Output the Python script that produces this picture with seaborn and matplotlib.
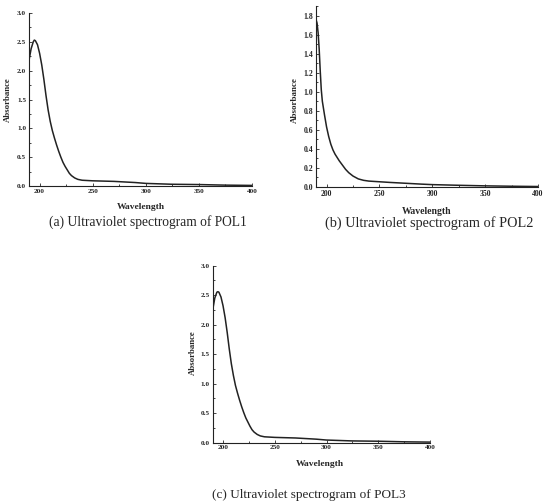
import matplotlib
matplotlib.use('Agg')
import matplotlib.pyplot as plt
import numpy as np
import pandas as pd
import seaborn as sns
from matplotlib.ticker import MultipleLocator, AutoMinorLocator

# Wavelength (nm) / absorbance
wl_pol1 = [190, 192, 194, 195, 196, 198, 200, 202, 204, 206, 208, 210, 212, 214,
           216, 218, 220, 222, 224, 226, 228, 230, 233, 236, 240, 245, 250, 260,
           270, 280, 290, 300, 325, 350, 375, 400]
abs_pol1 = [2.18, 2.38, 2.50, 2.53, 2.52, 2.45, 2.30, 2.10, 1.85, 1.57, 1.32, 1.12,
            0.96, 0.83, 0.71, 0.60, 0.50, 0.41, 0.34, 0.28, 0.22, 0.18, 0.14, 0.115,
            0.10, 0.095, 0.09, 0.085, 0.08, 0.07, 0.06, 0.045, 0.03, 0.025, 0.015, 0.01]

wl_pol2 = [190, 191, 192, 193, 194, 195, 196, 198, 200, 202, 204, 206, 208, 210,
           212, 215, 218, 221, 225, 230, 235, 240, 250, 260, 270, 280, 290, 300,
           325, 350, 375, 400]
abs_pol2 = [1.76, 1.72, 1.62, 1.45, 1.22, 1.02, 0.90, 0.76, 0.63, 0.53, 0.45, 0.39,
            0.345, 0.31, 0.275, 0.23, 0.185, 0.15, 0.115, 0.085, 0.07, 0.062, 0.055,
            0.048, 0.042, 0.036, 0.03, 0.025, 0.018, 0.012, 0.008, 0.005]

wl_pol3 = [190, 192, 194, 195, 196, 198, 200, 202, 204, 206, 208, 210, 212, 214,
           216, 218, 220, 222, 224, 226, 228, 230, 233, 236, 240, 245, 250, 260,
           270, 280, 290, 300, 325, 350, 375, 400]
abs_pol3 = [2.25, 2.45, 2.55, 2.56, 2.55, 2.47, 2.32, 2.12, 1.87, 1.59, 1.34, 1.14,
            0.97, 0.84, 0.72, 0.61, 0.51, 0.42, 0.35, 0.28, 0.22, 0.18, 0.14, 0.115,
            0.10, 0.095, 0.09, 0.085, 0.08, 0.07, 0.06, 0.045, 0.03, 0.025, 0.015, 0.01]

captions = ['(a) Ultraviolet spectrogram of POL1',
            '(b) Ultraviolet spectrogram of POL2',
            '(c) Ultraviolet spectrogram of POL3']

sns.set_style('ticks')
plt.rcParams['font.family'] = ['Liberation Serif', 'DejaVu Serif']

fig = plt.figure(figsize=(5.5, 5.04), dpi=100)
W, H = 550, 504

# box in pixels (left, top, right, bottom), ylim top, y step, text sizes
panels = [
    (wl_pol1, abs_pol1, [29, 13, 252, 186], 3.0, 0.5, 5.2, 6.8, 9.75),
    (wl_pol2, abs_pol2, [316, 6, 538, 187], 1.9, 0.2, 5.6, 7.0, 10.3),
    (wl_pol3, abs_pol3, [212.7, 265.7, 430, 442.7], 3.0, 0.5, 5.2, 6.8, 9.55),
]
label_pos = [((140.7, 206.7), (8, 100), (147.5, 221.7)),
             ((427, 211), (295, 100), (429.5, 222.7)),
             ((320, 464), (193, 353), (309, 495))]

for (wl, ab, box, ytop, ystep, fs_tick, fs_lab, fs_cap), cap, (xl, yl, cp) in zip(
        panels, captions, label_pos):
    l, t, r, b = box
    ax = fig.add_axes([l / W, 1 - b / H, (r - l) / W, (b - t) / H])
    df = pd.DataFrame({'Wavelength': wl, 'Absorbance': ab})
    sns.lineplot(data=df, x='Wavelength', y='Absorbance', ax=ax,
                 color='#222222', linewidth=1.1)
    ax.set_xlim(190, 400)
    ax.set_ylim(0, ytop)
    ax.xaxis.set_major_locator(MultipleLocator(50))
    ax.yaxis.set_major_locator(MultipleLocator(ystep))
    ax.xaxis.set_minor_locator(AutoMinorLocator(2))
    ax.yaxis.set_minor_locator(AutoMinorLocator(2))
    ax.tick_params(which='both', direction='in', width=0.6, labelsize=fs_tick,
                   pad=2)
    ax.tick_params(which='major', length=2.5)
    ax.tick_params(which='minor', length=1.5)
    for lab in ax.get_xticklabels() + ax.get_yticklabels():
        lab.set_fontweight('bold')
    for s in ['left', 'bottom']:
        ax.spines[s].set_linewidth(0.8)
        ax.spines[s].set_color('#222222')
    sns.despine(ax=ax)
    ax.set_xlabel('')
    ax.set_ylabel('')
    fig.text(xl[0] / W, 1 - xl[1] / H, 'Wavelength', ha='center', va='center',
             fontsize=fs_lab, fontweight='bold')
    fig.text(yl[0] / W, 1 - yl[1] / H, 'Absorbance', ha='center', va='center',
             rotation=90, fontsize=fs_lab - 0.5, fontweight='bold')
    fig.text(cp[0] / W, 1 - cp[1] / H, cap, ha='center', va='center',
             fontsize=fs_cap)

fig.savefig('out.png', dpi=100)
